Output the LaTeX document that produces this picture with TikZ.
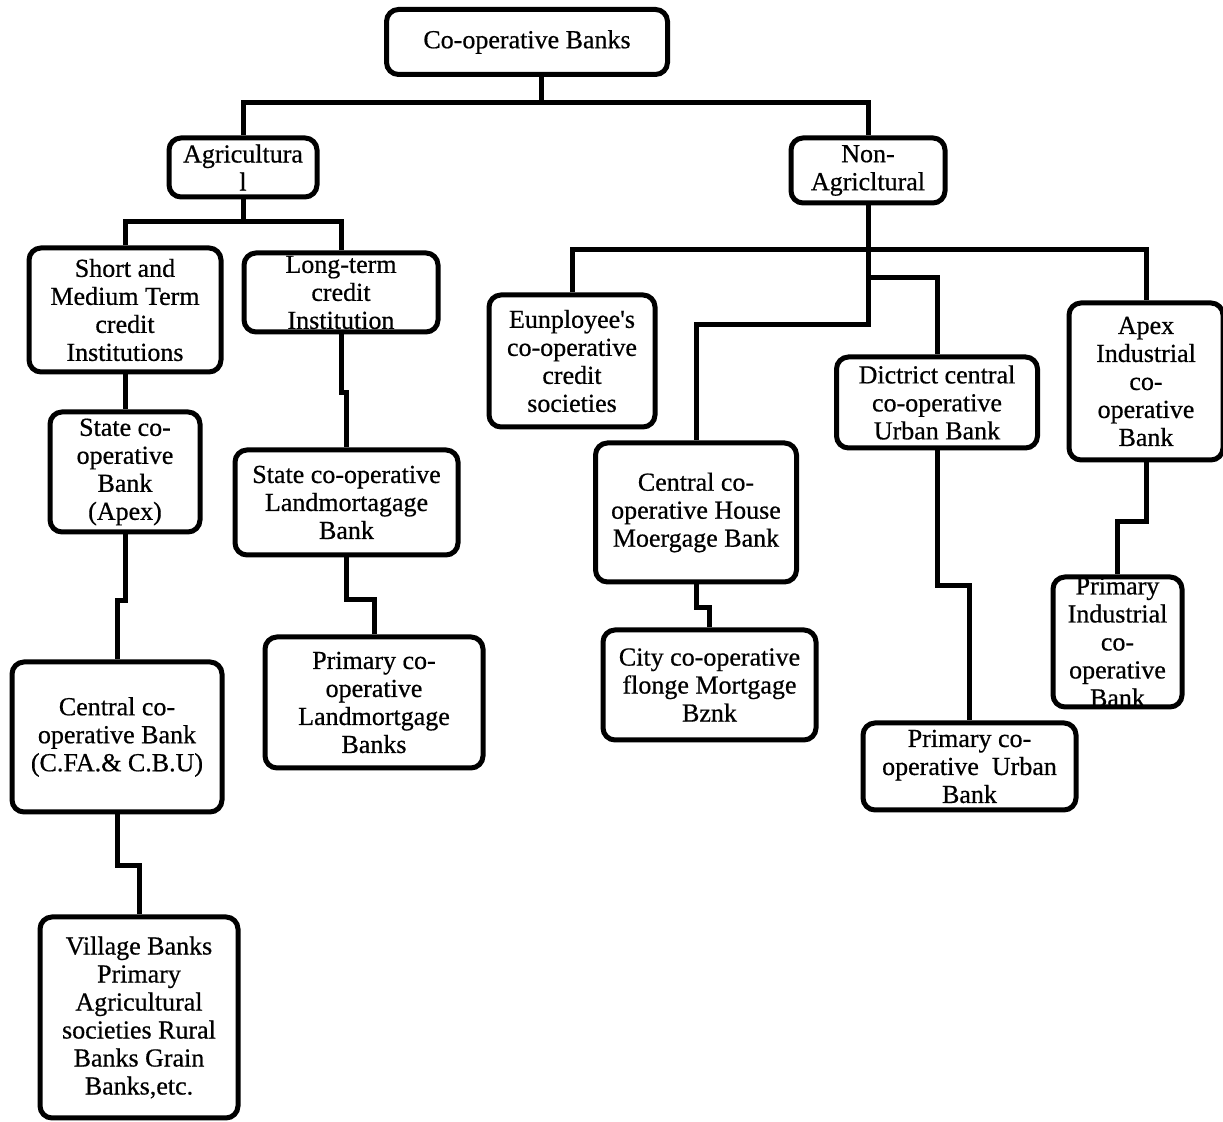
\documentclass[tikz,border=0pt]{standalone}
\usepackage{fontspec}
\setmainfont{Liberation Serif}[FakeBold=0.6]

\begin{document}
\begin{tikzpicture}[
  x=0.5pt, y=-0.5pt,
  box/.style={
    rectangle, rounded corners=6pt, draw, line width=2.5pt,
    align=center, inner sep=2pt,
    font=\fontsize{13}{14}\selectfont,
  },
  link/.style={line width=2.5pt},
]
\useasboundingbox (0,0) rectangle (1223,1122);

% Top level
\node[box, minimum width=140.5pt, minimum height=32.5pt] (root) at (527,42) {Co-operative Banks};
\node[box, minimum width=74pt, minimum height=29.5pt] (agri) at (243,167.5) {Agricultura\\l};
\node[box, minimum width=77pt, minimum height=32.5pt] (nonag) at (868,170.5) {Non-\\Agricltural};

% Agricultural side
\node[box, minimum width=96pt, minimum height=62pt] (short) at (125,310) {Short and\\Medium Term\\credit\\Institutions};
\node[box, minimum width=97pt, minimum height=39.5pt, inner ysep=0pt] (long) at (341,292.5) {Long-term\\credit\\Institution};
\node[box, minimum width=75pt, minimum height=60pt] (sba) at (125,472) {State co-\\operative\\Bank\\(Apex)};
\node[box, minimum width=105pt, minimum height=75pt] (ccb) at (117,737) {Central co-\\operative Bank\\(C.FA.\& C.B.U)};
\node[box, minimum width=99pt, minimum height=100.5pt] (vil) at (139,1017.5) {Village Banks\\Primary\\Agricultural\\societies Rural\\Banks Grain\\Banks,etc.};
\node[box, minimum width=111.5pt, minimum height=52.5pt] (slm) at (346.5,502.5) {State co-operative\\Landmortagage\\Bank};
\node[box, minimum width=109pt, minimum height=65.5pt] (plm) at (374,702.5) {Primary co-\\operative\\Landmortgage\\Banks};

% Non-agricultural side
\node[box, minimum width=83pt, minimum height=66pt] (emp) at (572,361) {Eunployee\textquotesingle s\\co-operative\\credit\\societies};
\node[box, minimum width=100.5pt, minimum height=69.5pt] (chb) at (696,512.5) {Central co-\\operative House\\Moergage Bank};
\node[box, minimum width=106.5pt, minimum height=55pt] (city) at (709.5,685) {City co-operative\\flonge Mortgage\\Bznk};
\node[box, minimum width=100.5pt, minimum height=45.5pt] (dist) at (937,402.5) {Dictrict central\\co-operative\\Urban Bank};
\node[box, minimum width=106.5pt, minimum height=43.5pt] (pub) at (969.5,766.5) {Primary co-\\operative~~Urban\\Bank};
\node[box, minimum width=77pt, minimum height=78.5pt] (apex) at (1146,381.5) {Apex\\Industrial\\co-\\operative\\Bank};
\node[box, minimum width=64.5pt, minimum height=65pt, inner ysep=-1.5pt] (pib) at (1117.5,642) {Primary\\Industrial\\co-\\operative\\Bank};

% Junctions
\coordinate (rootbus) at (541,103);
\coordinate (agribus) at (243,222);
\coordinate (nonbus) at (868,250);
\coordinate (distbus) at (868,278);

% Links -- top
\draw[link] (root.south -| rootbus) -- (rootbus);
\draw[link] (agri.north) |- (rootbus) -| (nonag.north);

% Links -- agricultural
\draw[link] (agri.south) -- (agribus);
\draw[link] (short.north) |- (agribus) -| (long.north);
\draw[link] (short.south) -- (sba.north);
\draw[link] (sba.south) -- ++(0,66) -| (ccb.north);
\draw[link] (ccb.south) -- ++(0,51) -| (vil.north);
\draw[link] (long.south) -- ++(0,58) -| (slm.north);
\draw[link] (slm.south) -- ++(0,42) -| (plm.north);

% Links -- non-agricultural
\draw[link] (nonag.south) -- ++(0,119) -| (chb.north);
\draw[link] (emp.north) |- (nonbus) -| (apex.north);
\draw[link] (distbus) -| (dist.north);
\draw[link] (chb.south) -- ++(0,23) -| (city.north);
\draw[link] (dist.south) -- ++(0,135) -| (pub.north);
\draw[link] (apex.south) -- ++(0,59) -| (pib.north);

\end{tikzpicture}
\end{document}
